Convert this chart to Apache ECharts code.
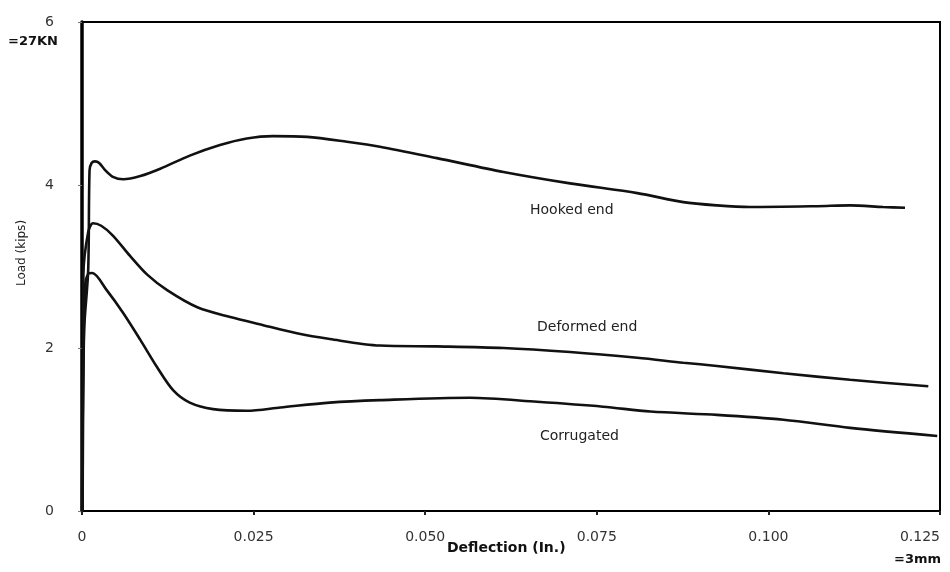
<!DOCTYPE html>
<html>
<head>
<meta charset="utf-8">
<script src="https://cdn.jsdelivr.net/npm/echarts@6/dist/echarts.min.js"></script>
<style>
html,body{margin:0;padding:0;background:#fff;}
#c{width:950px;height:572px;}
</style>
</head>
<body>
<div id="c"></div>
<script>
// Deflection (in.) vs Load (kips)
const hookedEnd = [
  [0.0001,0],[0.0003,2.2],[0.0009,2.95],[0.0011,4.18],[0.0014,4.27],[0.0019,4.29],[0.0025,4.27],[0.0034,4.18],
  [0.0045,4.10],[0.0060,4.07],[0.0085,4.11],[0.0114,4.20],[0.0157,4.36],[0.0201,4.49],
  [0.0240,4.57],[0.0278,4.60],[0.0328,4.59],[0.0386,4.53],[0.0434,4.47],[0.0517,4.33],
  [0.0614,4.16],[0.0711,4.02],[0.0809,3.90],[0.0876,3.79],[0.0925,3.75],[0.0973,3.73],
  [0.1071,3.74],[0.1119,3.75],[0.1167,3.73],[0.1199,3.72]
];
const deformedEnd = [
  [0.0001,0],[0.0002,2.9],[0.0009,3.42],[0.0016,3.53],[0.0028,3.50],[0.0045,3.38],
  [0.0070,3.13],[0.0095,2.90],[0.0124,2.71],[0.0168,2.50],[0.0216,2.38],[0.0264,2.28],
  [0.0313,2.18],[0.0361,2.11],[0.0434,2.03],[0.0517,2.02],[0.0614,2.00],[0.0711,1.95],
  [0.0809,1.88],[0.0876,1.82],[0.0925,1.78],[0.1022,1.69],[0.1119,1.61],[0.1233,1.53]
];
const corrugated = [
  [0.0000,0],[0.0004,2.71],[0.0009,2.91],[0.0015,2.92],[0.0036,2.71],[0.0060,2.43],
  [0.0085,2.10],[0.0109,1.77],[0.0133,1.48],[0.0157,1.33],[0.0191,1.25],[0.0240,1.23],
  [0.0289,1.27],[0.0361,1.33],[0.0434,1.36],[0.0565,1.39],[0.0663,1.34],[0.0759,1.28],
  [0.0828,1.22],[0.0925,1.18],[0.1022,1.12],[0.1119,1.02],[0.1246,0.92]
];
const seriesNames = ['Hooked end','Deformed end','Corrugated'];
const xTickStep = 0.025;
const yTickStep = 2;

const chart = echarts.init(document.getElementById('c'), null, {renderer:'canvas'});
const font = '"DejaVu Sans", "Liberation Sans", sans-serif';
function mk(name, data){
  return {
    name: name, type: 'line', data: data, smooth: 0.3, symbol: 'none',
    lineStyle: {color: '#111', width: 2.6}
  };
}
chart.setOption({
  animation: false,
  backgroundColor: '#fff',
  grid: {left: 82, right: 10, top: 22, bottom: 61, show: true, borderColor: '#000', borderWidth: 2, backgroundColor: 'transparent'},
  xAxis: {
    type: 'value', min: 0, max: 0.125, interval: xTickStep,
    axisLine: {lineStyle: {color: '#000', width: 2}},
    axisTick: {show: true, inside: false, length: 4, lineStyle: {color: '#222', width: 2}},
    splitLine: {show: false},
    axisLabel: {
      color: '#333', fontFamily: font, fontSize: 14, margin: 19, alignMaxLabel: 'right',
      formatter: function(v){ if (v === 0) return '0'; return v.toFixed(3); }
    }
  },
  yAxis: {
    type: 'value', min: 0, max: 6, interval: yTickStep,
    axisLine: {lineStyle: {color: '#000', width: 3.5}},
    axisTick: {show: true, length: 4, lineStyle: {color: '#777', width: 1}},
    splitLine: {show: false},
    axisLabel: {color: '#333', fontFamily: font, fontSize: 14, margin: 28}
  },
  series: [mk(seriesNames[0], hookedEnd), mk(seriesNames[1], deformedEnd), mk(seriesNames[2], corrugated)],
  graphic: [
    {type:'text', left: 530, top: 203, style:{text: seriesNames[0], font: '14px ' + font, fill: '#222'}},
    {type:'text', left: 537, top: 320, style:{text: seriesNames[1], font: '14px ' + font, fill: '#222'}},
    {type:'text', left: 540, top: 429, style:{text: seriesNames[2], font: '14px ' + font, fill: '#222'}},
    {type:'text', left: 8, top: 35, style:{text: '=27KN', font: 'bold 13px ' + font, fill: '#111'}},
    {type:'text', left: 894, top: 553, style:{text: '=3mm', font: 'bold 13px ' + font, fill: '#111'}},
    {type:'text', left: 447, top: 541, style:{text: 'Deflection (In.)', font: 'bold 14px ' + font, fill: '#111'}},
    {type:'text', x: 22, y: 253, rotation: Math.PI/2, style:{text: 'Load (kips)', font: '12px ' + font, fill: '#222', align: 'center', verticalAlign: 'middle'}}
  ]
});
</script>
</body>
</html>
